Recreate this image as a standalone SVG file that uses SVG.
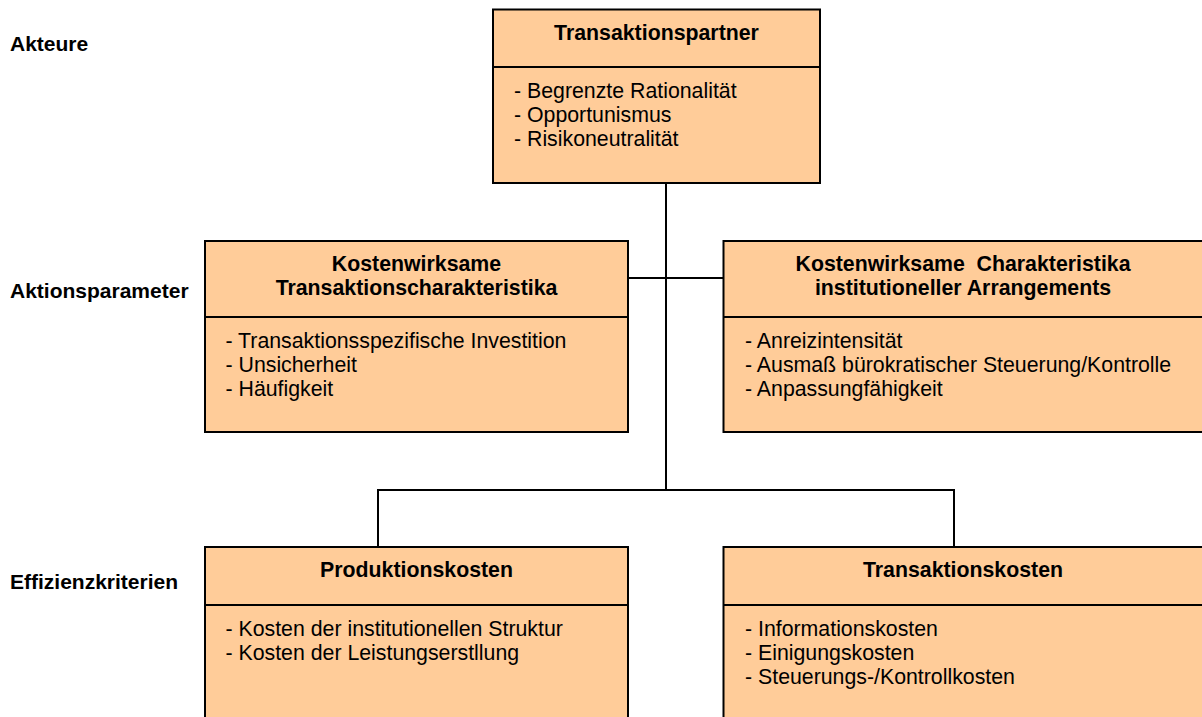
<svg xmlns="http://www.w3.org/2000/svg" width="1202" height="717" viewBox="0 0 1202 717">
<style>
.box{fill:#FFCC99;stroke:#000;stroke-width:2}
.div{stroke:#000;stroke-width:2}
.con{fill:none;stroke:#000;stroke-width:2}
.t{font-family:"Liberation Sans",Arial,sans-serif;font-size:21.3px;font-weight:bold;fill:#000;text-anchor:middle}
.b{font-family:"Liberation Sans",Arial,sans-serif;font-size:21.3px;fill:#000}
.l{font-family:"Liberation Sans",Arial,sans-serif;font-size:21px;font-weight:bold;fill:#000}
</style>
<rect width="1202" height="717" fill="#fff"/>
<g id="labels">
<text class="l" x="10" y="51">Akteure</text>
<text class="l" x="10" y="298">Aktionsparameter</text>
<text class="l" x="10" y="589">Effizienzkriterien</text>
</g>
<g id="connectors">
<line class="con" x1="666" y1="183" x2="666" y2="490"/>
<line class="con" x1="628" y1="278" x2="724" y2="278"/>
<polyline class="con" points="378,547 378,490 954,490 954,547"/>
</g>
<g id="transaktionspartner">
<rect class="box" x="493" y="9.5" width="327" height="173.5"/>
<line class="div" x1="493" y1="67" x2="820" y2="67"/>
<text class="t" x="656.5" y="40">Transaktionspartner</text>
<text class="b" x="514" y="97.5">- Begrenzte Rationalität</text>
<text class="b" x="514" y="121.5">- Opportunismus</text>
<text class="b" x="514" y="145.5">- Risikoneutralität</text>
</g>
<g id="transaktionscharakteristika">
<rect class="box" x="205" y="241" width="423" height="191"/>
<line class="div" x1="205" y1="317" x2="628" y2="317"/>
<text class="t" x="416.5" y="271">Kostenwirksame</text>
<text class="t" x="416.5" y="294.5">Transaktionscharakteristika</text>
<text class="b" x="225.5" y="348">- Transaktionsspezifische Investition</text>
<text class="b" x="225.5" y="372">- Unsicherheit</text>
<text class="b" x="225.5" y="396">- Häufigkeit</text>
</g>
<g id="arrangements">
<rect class="box" x="723.5" y="241" width="490" height="191"/>
<line class="div" x1="723.5" y1="317" x2="1213" y2="317"/>
<text class="t" x="963" y="271" xml:space="preserve">Kostenwirksame  Charakteristika</text>
<text class="t" x="963" y="294.5">institutioneller Arrangements</text>
<text class="b" x="745" y="348">- Anreizintensität</text>
<text class="b" x="745" y="372">- Ausmaß bürokratischer Steuerung/Kontrolle</text>
<text class="b" x="745" y="396">- Anpassungfähigkeit</text>
</g>
<g id="produktionskosten">
<rect class="box" x="205" y="547" width="423" height="190"/>
<line class="div" x1="205" y1="605" x2="628" y2="605"/>
<text class="t" x="416.5" y="577">Produktionskosten</text>
<text class="b" x="225.5" y="635.5">- Kosten der institutionellen Struktur</text>
<text class="b" x="225.5" y="659.5">- Kosten der Leistungserstllung</text>
</g>
<g id="transaktionskosten">
<rect class="box" x="723.5" y="547" width="490" height="190"/>
<line class="div" x1="723.5" y1="605" x2="1213" y2="605"/>
<text class="t" x="963" y="577">Transaktionskosten</text>
<text class="b" x="745" y="635.5">- Informationskosten</text>
<text class="b" x="745" y="659.5">- Einigungskosten</text>
<text class="b" x="745" y="683.5">- Steuerungs-/Kontrollkosten</text>
</g>
</svg>
